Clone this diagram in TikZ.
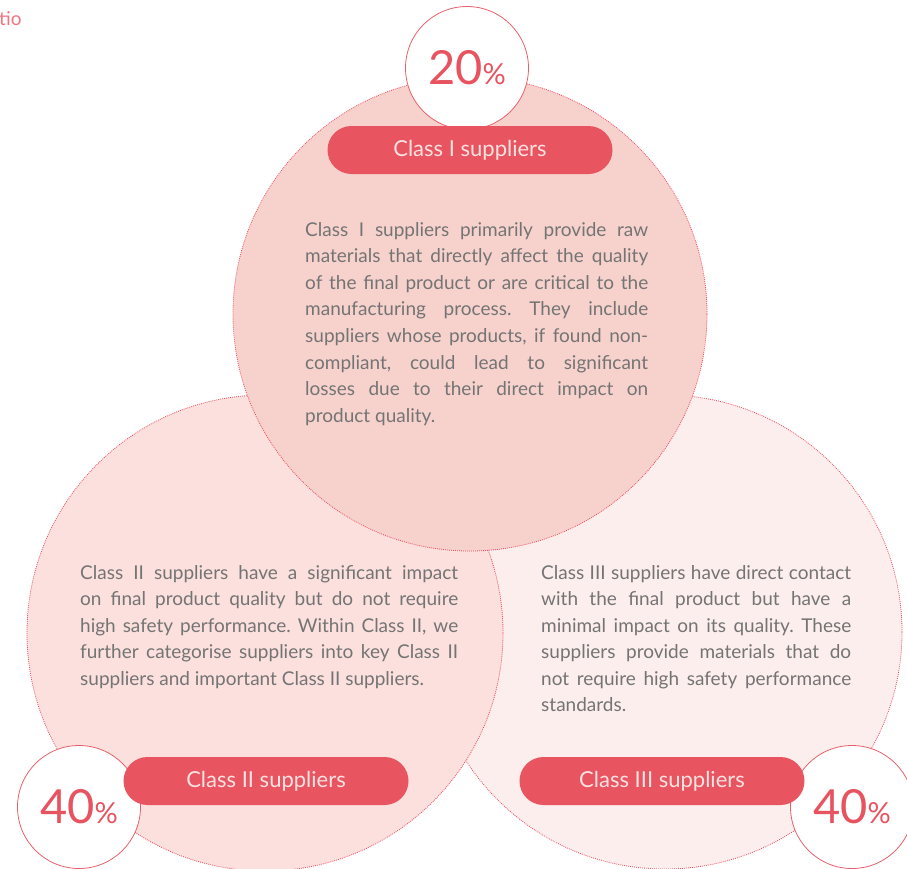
\documentclass[tikz,border=0pt]{standalone}
\usepackage{fontspec}
\setmainfont{Lato}
\frenchspacing
\definecolor{topfill}{HTML}{F7D2CD}
\definecolor{leftfill}{HTML}{FBE0DD}
\definecolor{rightfill}{HTML}{FCEEEC}
\definecolor{dotred}{HTML}{EE4F63}
\definecolor{pillred}{HTML}{E95461}
\definecolor{pilltext}{HTML}{FDE2E2}
\definecolor{pcttext}{HTML}{E85360}
\definecolor{pctborder}{HTML}{E8606B}
\definecolor{bodygray}{HTML}{747474}
\definecolor{tiored}{HTML}{F27482}
\newcommand\jl[1]{\hbox to \hsize{#1}}
\tikzset{
  bigc/.style={circle, draw=dotred, dash pattern=on 0.9pt off 1.1pt, line width=0.8pt, inner sep=0pt},
  pct/.style={circle, draw=pctborder, fill=white, line width=0.8pt, minimum size=123pt, inner sep=0pt, text=pcttext},
  pill/.style={rectangle, rounded corners=24pt, minimum width=285pt, minimum height=48pt, fill=pillred, text=pilltext, inner sep=0pt, font=\fontsize{22}{22}\selectfont},
  body/.style={inner sep=0pt, anchor=base west, text=bodygray}
}
\newcommand\pcttxt[1]{{\fontsize{47}{47}\selectfont #1}{\fontsize{29}{29}\selectfont\%}}
\begin{document}
\begin{tikzpicture}[x=1pt,y=-1pt]
\useasboundingbox (0,0) rectangle (907,868);
\clip (0,0) rectangle (907,868);
% big circles
\node[bigc, fill=rightfill, minimum size=474pt] (cright) at (665,632) {};
\node[bigc, fill=leftfill, minimum size=476pt] (cleft) at (265,633) {};
\node[bigc, fill=topfill, minimum size=474pt] (ctop) at (470,314) {};
% percent circles
\node[pct] (ptop) at (467,68) {\pcttxt{20}};
\node[pct] (pleft) at (79,807) {\pcttxt{40}};
\node[pct] (pright) at (852,807) {\pcttxt{40}};
% pills
\node[pill] (l1) at (470,150) {Class I suppliers};
\node[pill] (l2) at (266,781) {Class II suppliers};
\node[pill] (l3) at (662,781) {Class III suppliers};
% body texts
\node[body] (t1) at (305,236) {\parbox[t]{343pt}{\fontsize{19}{26.6}\selectfont
\jl{Class I suppliers primarily provide raw}
\jl{materials that directly affect the quality}
\jl{of the final product or are critical to the}
\jl{manufacturing process. They include}
\jl{suppliers whose products, if found non-}
\jl{compliant, could lead to significant}
\jl{losses due to their direct impact on}
\hbox{product quality.}}};
\node[body] (t2) at (80,579) {\parbox[t]{378pt}{\fontsize{19}{26.5}\selectfont
\jl{Class II suppliers have a significant impact}
\jl{on final product quality but do not require}
\jl{high safety performance. Within Class II, we}
\jl{further categorise suppliers into key Class II}
\hbox{suppliers and important Class II suppliers.}}};
\node[body] (t3) at (541,579) {\parbox[t]{310pt}{\fontsize{19}{26.5}\selectfont
\jl{Class III suppliers have direct contact}
\jl{with the final product but have a}
\jl{minimal impact on its quality. These}
\jl{suppliers provide materials that do}
\jl{not require high safety performance}
\hbox{standards.}}};
% cut-off heading
\node[inner sep=0pt, anchor=base west, text=tiored, font=\fontsize{19}{19}\selectfont] (tio) at (-1,25) {tio};
\end{tikzpicture}
\end{document}
